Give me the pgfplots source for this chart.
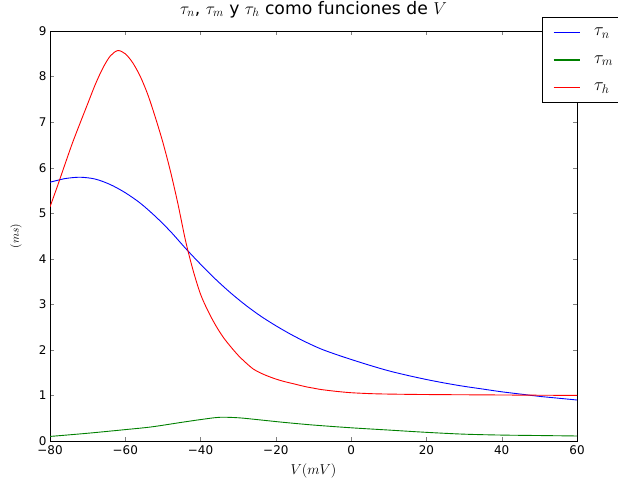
\RequirePackage{fix-cm}
\documentclass[border=0pt]{standalone}
\usepackage{fontspec}
\setmainfont{DejaVu Sans}
\usepackage{pgfplots}
\pgfplotsset{compat=1.18}
\begin{document}
\begin{tikzpicture}
\begin{axis}[
  name=ax,
  scale only axis, width=527bp, height=410bp,
  xmin=-80, xmax=60, ymin=0, ymax=9,
  xtick={-80,-60,-40,-20,0,20,40,60},
  xticklabels={−80,−60,−40,−20,0,20,40,60},
  ytick={0,1,2,3,4,5,6,7,8,9},
  tick align=inside, xtick pos=both, ytick pos=both,
  major tick length=4bp,
  /pgf/number format/assume math mode=true,
  ticklabel style={font=\fontsize{12}{14}\selectfont},
  xticklabel style={yshift=-1bp},
  axis line style={line width=0.8pt},
  title={$\tau_n$, $\tau_m$ y $\tau_h$ como funciones de $V$},
  title style={font=\fontsize{17.28}{20}\selectfont, at={(axis description cs:0.5,1)}, anchor=base, yshift=11bp},
  xlabel={$V(mV)$}, ylabel={$(ms)$},
  every axis x label/.style={font=\fontsize{14.4}{17}\selectfont, at={(axis description cs:0.5,-0.073)}, anchor=center},
  every axis y label/.style={font=\fontsize{11.5}{14}\selectfont, at={(axis description cs:-0.0645,0.5)}, anchor=center, rotate=90},
  legend style={at={(rel axis cs:0.933,1.0334)}, anchor=north west,
    line width=0.8pt, fill=white, font=\fontsize{18}{20}\selectfont,
    nodes={inner sep=2bp}, row sep=14.5bp,
    inner xsep=11bp, inner ysep=8bp},
  legend cell align=left,
]
\addplot[blue, line width=0.9pt, smooth,
  legend image code/.code={\draw[blue, line width=1.2pt] (0bp,0bp) -- (26bp,0bp); \path (38bp,0bp);}] coordinates {
(-80,5.68) (-76,5.76) (-72,5.79) (-68,5.75) (-64,5.63) (-60,5.45) (-56,5.22)
(-52,4.93) (-48,4.60) (-44,4.23) (-40,3.88) (-36,3.55) (-32,3.25) (-28,2.98)
(-24,2.74) (-20,2.53) (-16,2.34) (-12,2.17) (-8,2.02) (-4,1.90) (0,1.79)
(5,1.66) (10,1.54) (15,1.44) (20,1.35) (25,1.27) (30,1.20) (35,1.14)
(40,1.08) (45,1.03) (50,0.98) (55,0.94) (60,0.90)};
\addlegendentry{$\tau_n$}
\addplot[green!50!black, line width=0.9pt, smooth,
  legend image code/.code={\draw[green!50!black, line width=1.2pt] (0bp,0bp) -- (26bp,0bp); \path (38bp,0bp);}] coordinates {
(-80,0.10) (-70,0.17) (-60,0.25) (-53,0.31) (-45,0.41) (-40,0.47) (-35,0.52)
(-30,0.51) (-25,0.47) (-18,0.41) (-10,0.35) (0,0.29) (10,0.24) (20,0.19)
(30,0.15) (40,0.13) (50,0.12) (60,0.11)};
\addlegendentry{$\tau_m$}
\addplot[red, line width=0.9pt, smooth,
  legend image code/.code={\draw[red, line width=1.2pt] (0bp,0bp) -- (26bp,0bp); \path (38bp,0bp);}] coordinates {
(-80,5.14) (-78,5.60) (-76,6.08) (-74,6.55) (-72,6.98) (-70,7.40) (-68,7.82)
(-66,8.18) (-64,8.45) (-62,8.57) (-60,8.50) (-58,8.30) (-56,8.00) (-54,7.60)
(-52,7.10) (-50,6.55) (-48,5.92) (-46,5.20) (-44,4.40) (-42,3.75) (-40,3.22)
(-38,2.85) (-36,2.54) (-34,2.28) (-32,2.07) (-30,1.88) (-28,1.72) (-26,1.58)
(-24,1.49) (-22,1.42) (-20,1.36) (-18,1.31) (-16,1.27) (-14,1.23) (-12,1.19)
(-10,1.16) (-8,1.13) (-4,1.09) (0,1.06) (5,1.04) (10,1.03) (20,1.02) (40,1.01) (60,1.00)};
\addlegendentry{$\tau_h$}
\end{axis}
\pgfresetboundingbox
\path[use as bounding box] ([xshift=-50bp,yshift=-41bp]ax.south west) rectangle ([xshift=41bp,yshift=31bp]ax.north east);
\end{tikzpicture}
\end{document}
